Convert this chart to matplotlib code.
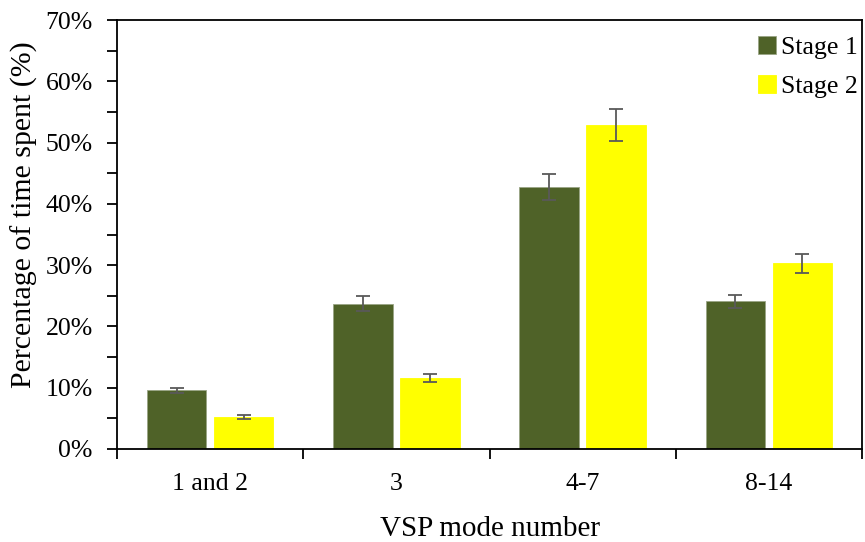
import numpy as np
import matplotlib.pyplot as plt
from matplotlib.ticker import MultipleLocator, FixedLocator, PercentFormatter

plt.rcParams['font.family'] = ['Liberation Serif', 'DejaVu Serif']

# data
categories = ['1 and 2', '3', '4-7', '8-14']
stage1 = [9.6, 23.7, 42.8, 24.1]
stage2 = [5.2, 11.6, 52.9, 30.3]
stage1_err = [0.4, 1.2, 2.1, 1.1]
stage2_err = [0.3, 0.6, 2.6, 1.5]

x = np.arange(len(categories))
w = 0.32

fig = plt.figure(figsize=(8.65, 5.42), dpi=100)
ax = fig.add_axes([0.1353, 0.1716, 0.8612, 0.7914])

err_kw = dict(ecolor='#595959', elinewidth=1.3, capsize=5, capthick=1.3)
ax.bar(x - 0.18, stage1, w, color='#4F6228', edgecolor='#9aa585', linewidth=0.6,
       yerr=stage1_err, error_kw=err_kw, label='Stage 1')
ax.bar(x + 0.18, stage2, w, color='#FFFF00', edgecolor='#FFFF00', linewidth=0.6,
       yerr=stage2_err, error_kw=err_kw, label='Stage 2')

ax.set_xlim(-0.5, len(categories) - 0.5)
ax.set_ylim(0, 70)
ax.yaxis.set_major_locator(MultipleLocator(10))
ax.yaxis.set_minor_locator(MultipleLocator(5))
ax.yaxis.set_major_formatter(PercentFormatter(decimals=0))

ax.set_xticks(x)
ax.set_xticklabels(categories)
ax.xaxis.set_minor_locator(FixedLocator(np.arange(-0.5, len(categories), 1.0)))
ax.tick_params(axis='x', which='major', length=0, pad=17.5, labelsize=18.5)
ax.tick_params(axis='x', which='minor', length=7, width=1.3, direction='out')
ax.tick_params(axis='y', which='both', length=7, width=1.3, direction='out')
ax.tick_params(axis='y', which='major', pad=10.5, labelsize=18.5)

for s in ax.spines.values():
    s.set_linewidth(1.3)

ax.set_xlabel('VSP mode number', fontsize=21, labelpad=15)
ax.set_ylabel('Percentage of time spent (%)', fontsize=21.5)
ax.yaxis.set_label_coords(-0.106, 0.547)

ax.legend(loc='upper right', bbox_to_anchor=(1.005, 0.98), frameon=False,
          fontsize=18.5, handlelength=0.7, handleheight=0.7, handletextpad=0.2,
          labelspacing=0.6, borderaxespad=0.0, borderpad=0.3)

fig.savefig('out.png', dpi=100)
